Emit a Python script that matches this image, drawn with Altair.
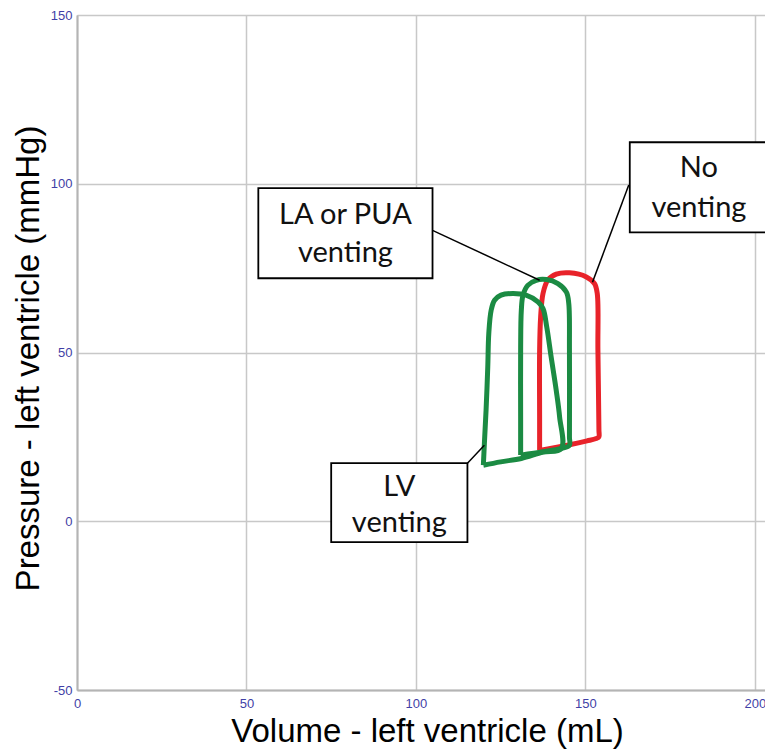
import altair as alt
import pandas as pd

# Pressure-volume loops (volume mL, pressure mmHg)
no_vent_v = [136.5, 145.0, 150.5, 153.2, 154.0, 154.0, 153.7, 153.5, 152.7, 150.3, 145.3, 141.4, 138.9, 137.5, 136.8, 136.5, 136.5, 136.5]
no_vent_p = [21.0, 22.6, 23.8, 24.5, 25.0, 27.0, 50.7, 67.5, 70.4, 72.4, 73.6, 73.2, 71.4, 67.5, 60.5, 50.7, 30.0, 21.0]

la_vent_v = [130.9, 137.5, 142.9, 145.3, 145.3, 145.3, 145.1, 144.4, 141.9, 138.5, 135.5, 133.0, 131.6, 131.1, 130.9, 130.9, 130.9]
la_vent_p = [19.6, 20.6, 21.6, 22.5, 25.0, 50.7, 64.5, 67.9, 70.4, 71.6, 71.4, 69.9, 67.0, 62.5, 50.7, 30.0, 19.6]

lv_vent_v = [119.9, 125.0, 131.1, 137.5, 142.9, 142.4, 141.4, 139.9, 138.6, 137.5, 136.0, 132.5, 128.6, 125.1, 123.2, 122.2, 121.5, 121.2, 120.7, 120.2, 119.9]
lv_vent_p = [16.6, 17.6, 18.6, 20.5, 21.5, 30.9, 38.8, 48.7, 57.6, 63.0, 65.0, 67.0, 67.5, 67.0, 65.5, 62.5, 55.6, 45.7, 32.9, 23.0, 16.6]

series_names = ["No venting", "LA or PUA venting", "LV venting"]
series_colors = ["#e8232a", "#1b8b43", "#1b8b43"]

# Axis tick values
x_ticks = [0, 50, 100, 150, 200]
y_ticks = [-50, 0, 50, 100, 150]

# Annotation boxes (data units)
box_x1 = [53.5, 163.1, 75.0]
box_x2 = [104.9, 204.0, 115.2]
box_y1 = [98.7, 112.3, 17.2]
box_y2 = [72.0, 85.6, -6.2]

# Annotation text lines
text_lines = ["LA or PUA", "venting", "No", "venting", "LV", "venting"]
text_x = [79.2, 79.2, 183.5, 183.5, 95.1, 95.1]
text_y = [90.7, 79.4, 104.6, 92.7, 10.1, -0.6]

# Leader lines
lead_x1 = [104.9, 162.8, 115.2]
lead_y1 = [86.2, 99.6, 17.2]
lead_x2 = [136.5, 152.1, 120.2]
lead_y2 = [71.4, 70.8, 22.5]

rows = []
for name, vs, ps in [(series_names[0], no_vent_v, no_vent_p),
                     (series_names[1], la_vent_v, la_vent_p),
                     (series_names[2], lv_vent_v, lv_vent_p)]:
    for i, (v, p) in enumerate(zip(vs, ps)):
        rows.append({"series": name, "i": i, "volume": v, "pressure": p})
loops = pd.DataFrame(rows)

boxes = pd.DataFrame({"x1": box_x1, "x2": box_x2, "y1": box_y1, "y2": box_y2})
texts = pd.DataFrame({"label": text_lines, "x": text_x, "y": text_y})
leads = pd.DataFrame({"x1": lead_x1, "y1": lead_y1, "x2": lead_x2, "y2": lead_y2})

xscale = alt.Scale(domain=[0, 203], nice=False, zero=False)
yscale = alt.Scale(domain=[-50, 150], nice=False, zero=False)

label_color = "#3f3fa6"
grid_color = "#c8c8c8"
label_font = "Liberation Sans"
title_font = "Liberation Sans"

xaxis = alt.Axis(values=x_ticks, title="Volume - left ventricle (mL)",
                 grid=True, gridColor=grid_color, gridWidth=1.5,
                 domainColor="#b4b4b4", domainWidth=2, ticks=False, tickSize=0,
                 labelColor=label_color, labelFont=label_font, labelFontSize=13,
                 labelPadding=7, labelFlush=False, labelExpr="'' + datum.value",
                 titleFont=title_font, titleFontSize=33, titleFontWeight="normal",
                 titleColor="black", titleX=350, titleY=41, titleBaseline="middle",
                 titleAlign="center")
yaxis = alt.Axis(values=y_ticks, title="Pressure - left ventricle (mmHg)",
                 grid=True, gridColor=grid_color, gridWidth=1.5,
                 domainColor="#b4b4b4", domainWidth=2, ticks=False, tickSize=0,
                 labelColor=label_color, labelFont=label_font, labelFontSize=13,
                 labelPadding=5, labelExpr="'' + datum.value",
                 titleFont=title_font, titleFontSize=33, titleFontWeight="normal",
                 titleColor="black", titleX=-49, titleY=343, titleBaseline="middle",
                 titleAlign="center", titleAngle=270)

loop_layer = alt.Chart(loops).mark_line(strokeWidth=5, interpolate="catmull-rom", clip=True).encode(
    x=alt.X("volume:Q", scale=xscale, axis=xaxis),
    y=alt.Y("pressure:Q", scale=yscale, axis=yaxis),
    color=alt.Color("series:N", scale=alt.Scale(domain=series_names, range=series_colors), legend=None),
    detail="series:N",
    order=alt.Order("i:Q"),
)

lead_layer = alt.Chart(leads).mark_rule(color="black", strokeWidth=1.5).encode(
    x=alt.X("x1:Q", scale=xscale), y=alt.Y("y1:Q", scale=yscale),
    x2="x2:Q", y2="y2:Q",
)

box_layer = alt.Chart(boxes).mark_rect(fill="white", stroke="black", strokeWidth=1.8, clip=True).encode(
    x=alt.X("x1:Q", scale=xscale), x2="x2:Q",
    y=alt.Y("y1:Q", scale=yscale), y2="y2:Q",
)

text_layer = alt.Chart(texts).mark_text(font="Lato", fontSize=29, color="#111111",
                                        align="center", baseline="middle").encode(
    x=alt.X("x:Q", scale=xscale), y=alt.Y("y:Q", scale=yscale), text="label:N",
)

chart = alt.layer(loop_layer, lead_layer, box_layer, text_layer).properties(
    width=688, height=675,
    autosize=alt.AutoSizeParams(type="none"),
    padding={"left": 77, "top": 15, "right": 0, "bottom": 63},
).configure_view(stroke=None).configure(background="white")

chart.save("out.html", embed_options={"renderer": "svg", "actions": False})
